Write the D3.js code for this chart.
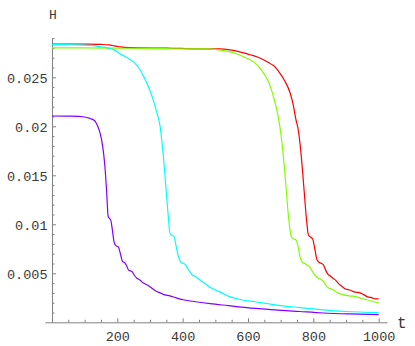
<!DOCTYPE html>
<html><head><meta charset="utf-8">
<script src="https://cdn.jsdelivr.net/npm/d3@7"></script>
<style>
html,body{margin:0;padding:0;background:#fff;}
svg text{font-family:"Liberation Mono",monospace;fill:#3a3a3a;}
</style></head>
<body>
<svg id="chart" width="415" height="346"></svg>
<script>
// ---- data ----
const seriesNames = ["red", "green", "cyan", "purple"];
const seriesColors = ["#ff0000", "#80ff00", "#00ffff", "#8000ff"];

const redT = [0,100,150,175,190,205,220,260,350,450,514,545,575,606,627,647,663,678,698,713,729,739,746,754,759,764,769,774,779,785,791,798,805,811,818,825,830,838,845,853,860,868,876,882,890,898,912,925,943,955,966,980,990,1000];
const redH = [0.0284,0.02838,0.02835,0.0283,0.0282,0.02812,0.02805,0.0280,0.02798,0.0279,0.0279,0.0278,0.0276,0.0273,0.0271,0.0268,0.0265,0.0262,0.0254,0.0246,0.0234,0.0221,0.0208,0.0196,0.0183,0.0166,0.0146,0.0125,0.0105,0.0089,0.0087,0.0085,0.0074,0.0064,0.0061,0.0060,0.0059,0.0053,0.0049,0.0047,0.0045,0.0043,0.0040,0.0038,0.0036,0.0034,0.0033,0.0031,0.0030,0.0028,0.0026,0.0025,0.0024,0.0024];

const greenT = [0,100,200,300,400,474,510,545,566,586,601,616,630,642,652,662,670,678,688,695,703,708,713,718,723,728,733,740,747,753,759,767,774,782,790,797,805,815,822,830,838,847,855,861,875,892,910,933,950,964,985,1000];
const greenH = [0.0280,0.0280,0.02797,0.02795,0.0279,0.0279,0.0278,0.0276,0.0274,0.0271,0.0269,0.0266,0.0262,0.0257,0.0252,0.0246,0.0239,0.0230,0.0217,0.0205,0.0186,0.0170,0.0152,0.0131,0.0111,0.0096,0.0087,0.0085,0.0084,0.0078,0.0067,0.0061,0.0060,0.0058,0.0056,0.0052,0.0048,0.0045,0.0044,0.0042,0.0038,0.0035,0.0034,0.0033,0.0030,0.0028,0.0027,0.0026,0.0024,0.0023,0.0021,0.0020];

const cyanT = [0,60,120,150,170,190,208,225,240,255,269,285,298,310,320,331,336,341,346,351,356,361,366,374,381,387,393,402,408,415,422,430,438,446,454,462,470,478,488,500,520,545,580,620,660,700,759,820,900,1000];
const cyanH = [0.02835,0.02832,0.02825,0.0281,0.0280,0.0278,0.0274,0.0271,0.0268,0.0264,0.0258,0.0248,0.0238,0.0227,0.0215,0.0200,0.0186,0.0169,0.0149,0.0128,0.0108,0.0091,0.0089,0.0087,0.0076,0.0067,0.0062,0.0060,0.0059,0.0055,0.0052,0.0048,0.0047,0.0045,0.0043,0.0041,0.0039,0.0037,0.0035,0.0033,0.0030,0.0026,0.0023,0.0021,0.0019,0.0017,0.0015,0.0013,0.0011,0.00098];

const purpleT = [0,60,100,116,130,140,148,155,162,167,172,176,180,185,190,196,203,210,216,222,228,235,244,252,260,270,280,292,305,318,331,345,361,380,402,440,484,540,596,670,759,830,910,1000];
const purpleH = [0.02105,0.02103,0.02095,0.0208,0.0206,0.0200,0.0192,0.0180,0.0159,0.0135,0.0108,0.0106,0.0104,0.0094,0.0082,0.0078,0.0077,0.0069,0.0062,0.0061,0.0058,0.0053,0.0052,0.0048,0.0045,0.0043,0.0040,0.0038,0.0035,0.0032,0.0030,0.0028,0.0027,0.0025,0.0023,0.0021,0.0019,0.0017,0.0015,0.0013,0.0011,0.00095,0.00085,0.00078];

const xMajorTicks = [200, 400, 600, 800, 1000];
const xMinorTicks = [50,100,150,250,300,350,450,500,550,650,700,750,850,900,950];
const yMajorTicks = [0.005, 0.01, 0.015, 0.02, 0.025];
const yMinorTicks = [0.001,0.002,0.003,0.004,0.006,0.007,0.008,0.009,0.011,0.012,0.013,0.014,0.016,0.017,0.018,0.019,0.021,0.022,0.023,0.024,0.026,0.027,0.028,0.029];
const xLabel = "t";
const yLabel = "H";

// ---- drawing ----
const svg = d3.select("#chart");
const x = d3.scaleLinear().domain([-21.4, 1025.5]).range([45, 387]);
const y = d3.scaleLinear().domain([0, 0.029]).range([322.3, 38.1]);

const axisColor = "#808080";
const fmt = d => String(+d.toPrecision(3));

// x axis (ticks point up into the plot)
const gx = svg.append("g").attr("transform", `translate(0,${y(0)})`);
gx.call(d3.axisBottom(x).tickValues(xMajorTicks).tickSizeInner(-4).tickSizeOuter(0).tickPadding(9.5).tickFormat(fmt));
const gxm = svg.append("g").attr("transform", `translate(0,${y(0)})`);
gxm.call(d3.axisBottom(x).tickValues(xMinorTicks).tickSizeInner(-2.5).tickSizeOuter(0).tickFormat(""));
gxm.select(".domain").remove();

// y axis (ticks point right into the plot)
const gy = svg.append("g").attr("transform", `translate(${x(0)},0)`);
gy.call(d3.axisLeft(y).tickValues(yMajorTicks).tickSizeInner(-4).tickSizeOuter(0).tickPadding(4.5).tickFormat(fmt));
const gym = svg.append("g").attr("transform", `translate(${x(0)},0)`);
gym.call(d3.axisLeft(y).tickValues(yMinorTicks).tickSizeInner(-2.5).tickSizeOuter(0).tickFormat(""));
gym.select(".domain").remove();

svg.selectAll(".domain, .tick line").attr("stroke", axisColor).attr("stroke-width", 1);
svg.selectAll(".tick text").attr("fill", "#3a3a3a").style("font-family", "'Liberation Mono', monospace").style("font-size", "13.5px");
gy.selectAll(".tick text").attr("dy", "0.42em");

svg.append("text").attr("x", 397).attr("y", 328).style("font-size", "16px").text(xLabel);
svg.append("text").attr("x", 53).attr("y", 18.5).attr("text-anchor", "middle").style("font-size", "13px").text(yLabel);

const series = [
  {t: redT, h: redH},
  {t: greenT, h: greenH},
  {t: cyanT, h: cyanH},
  {t: purpleT, h: purpleH}
];
const line = d3.line().x(d => x(d[0])).y(d => y(d[1])).curve(d3.curveMonotoneX);
series.forEach((s, i) => {
  const pts = s.t.map((t, j) => [t, s.h[j]]);
  svg.append("path").datum(pts)
    .attr("class", "series " + seriesNames[i])
    .attr("fill", "none")
    .attr("stroke", seriesColors[i])
    .attr("stroke-width", 1.2)
    .attr("d", line);
});
</script>
</body></html>
